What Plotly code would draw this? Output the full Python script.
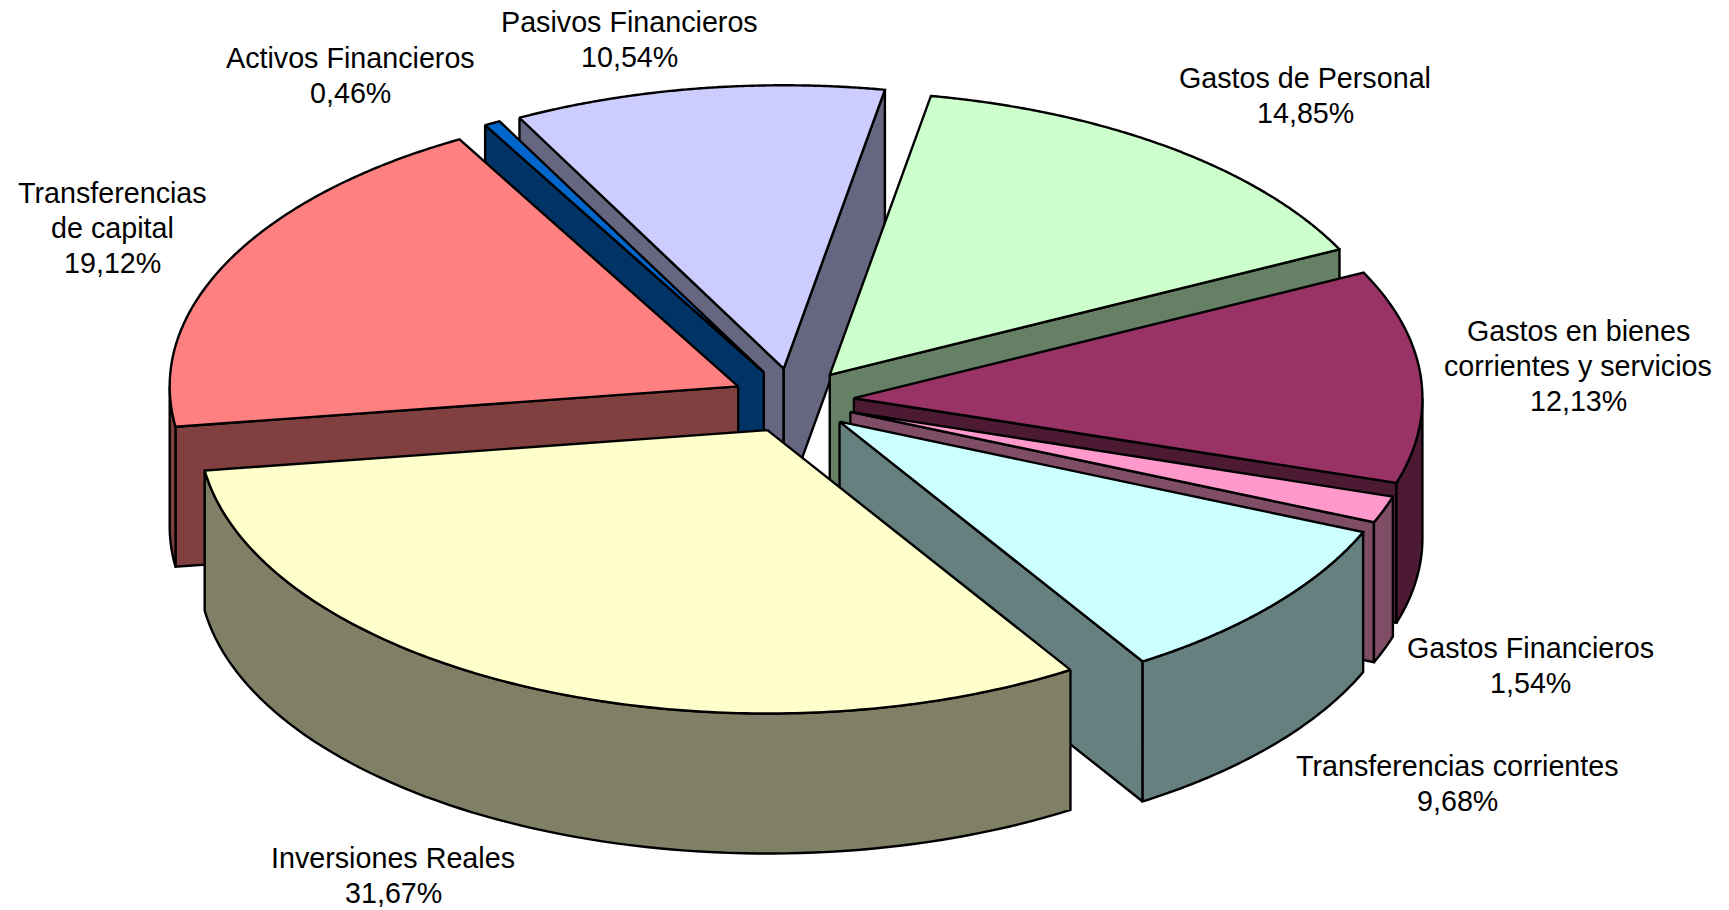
import numpy as np
import plotly.graph_objects as go

# ---- data (clockwise from the first slice) ----
names = ["Gastos de Personal", "Gastos en bienes corrientes y servicios", "Gastos Financieros",
         "Transferencias corrientes", "Inversiones Reales", "Transferencias de capital",
         "Activos Financieros", "Pasivos Financieros"]
values = [14.85, 12.13, 1.54, 9.68, 31.67, 19.12, 0.46, 10.54]
top_colors = ["#CCFFCC", "#993366", "#FF99CC", "#CCFFFF", "#FFFFCC", "#FF8080", "#0066CC", "#CCCCFF"]
side_colors = ["#668066", "#4D1A33", "#804D66", "#668080", "#808066", "#804040", "#003366", "#666680"]
label_lines = [["Gastos de Personal", "14,85%"], ["Gastos en bienes", "corrientes y servicios", "12,13%"],
               ["Gastos Financieros", "1,54%"], ["Transferencias corrientes", "9,68%"],
               ["Inversiones Reales", "31,67%"], ["Transferencias", "de capital", "19,12%"],
               ["Activos Financieros", "0,46%"], ["Pasivos Financieros", "10,54%"]]
label_x = [1305, 1578, 1530, 1457, 393, 112, 350, 629]
label_y = [78, 331, 648, 766, 858, 193, 58, 22]
draw_order = [7, 6, 5, 0, 1, 2, 3, 4]

W, H = 1729, 910
CX, CY, A, B, EX, EY, DEPTH = 793.0, 400.7, 568.5, 283.4, 61.1, 32.4, 140
START = 10.25
LINE = 2.4


def pt(t, ox, oy):
    return ox + A * np.sin(t), oy - B * np.cos(t)


def poly(xs, ys, fill):
    return go.Scatter(x=list(xs) + [xs[0]], y=list(ys) + [ys[0]], mode="lines", fill="toself",
                      fillcolor=fill, line=dict(color="black", width=LINE, simplify=False),
                      hoverinfo="skip", showlegend=False)


fig = go.Figure()
edges = np.cumsum([0] + values) / sum(values) * 360 + START
for i in draw_order:
    t0, t1 = np.radians(edges[i]), np.radians(edges[i + 1])
    mid = (t0 + t1) / 2
    ox, oy = CX + EX * np.sin(mid), CY - EY * np.cos(mid)
    x0, y0 = pt(t0, ox, oy)
    x1, y1 = pt(t1, ox, oy)
    for (xe, ye), other in (((x0, y0), (x1, y1)), ((x1, y1), (x0, y0))):
        # a radial wall shows when the slice's top lies above the wall line on screen
        dx, dy = xe - ox, ye - oy
        if abs(dx) > 1e-6 and other[1] - oy < dy / dx * (other[0] - ox):
            fig.add_trace(poly([ox, xe, xe, ox], [oy, ye, ye + DEPTH, oy + DEPTH], side_colors[i]))
    # outer rim: front half of the ellipse only
    for shift in (0, 2 * np.pi):
        l, h = max(t0, np.pi / 2 + shift), min(t1, 3 * np.pi / 2 + shift)
        if h > l:
            ts = np.linspace(l, h, 80)
            xs, ys = pt(ts, ox, oy)
            fig.add_trace(poly(np.r_[xs, xs[::-1]], np.r_[ys, ys[::-1] + DEPTH], side_colors[i]))
    ts = np.linspace(t0, t1, 160)
    xs, ys = pt(ts, ox, oy)
    fig.add_trace(poly(np.r_[ox, xs], np.r_[oy, ys], top_colors[i]))

annotations = []
for lines, lx, ly in zip(label_lines, label_x, label_y):
    for k, text in enumerate(lines):
        annotations.append(dict(x=lx, y=ly + k * 35, text=text, showarrow=False, xanchor="center",
                                yanchor="middle", font=dict(family="Liberation Sans", size=28.7, color="black")))

fig.update_layout(width=W, height=H, margin=dict(l=0, r=0, t=0, b=0), paper_bgcolor="white",
                  plot_bgcolor="white", annotations=annotations, showlegend=False,
                  xaxis=dict(range=[0, W], visible=False, fixedrange=True),
                  yaxis=dict(range=[H, 0], visible=False, fixedrange=True))
fig.write_html("out.html", config=dict(displayModeBar=False),
               post_script="document.body.style.margin='0';")
